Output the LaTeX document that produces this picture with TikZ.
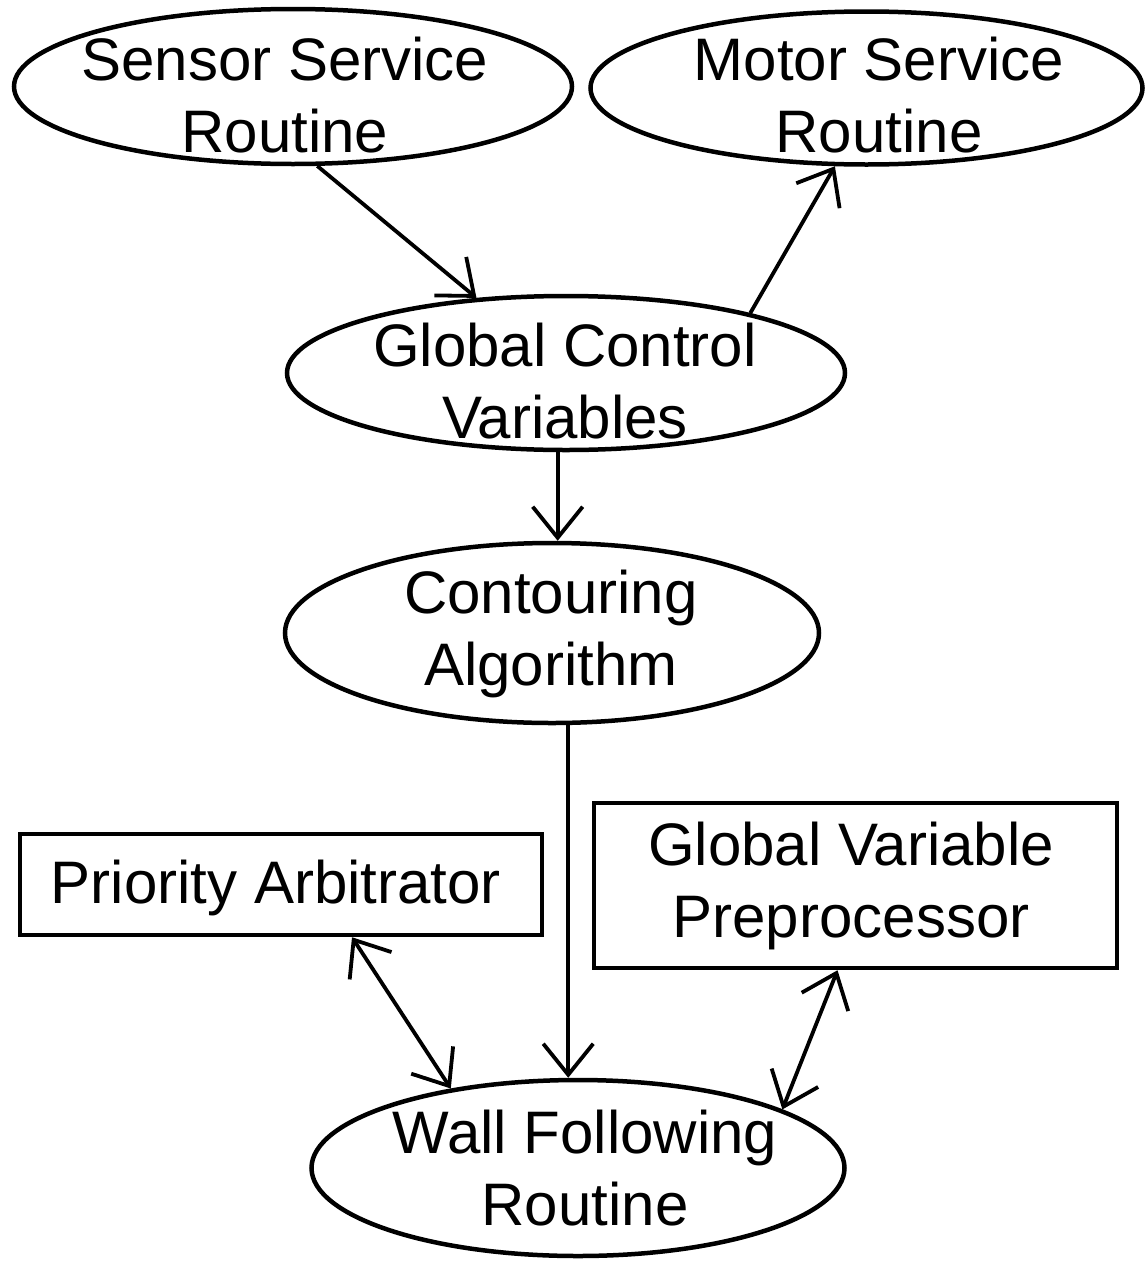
\documentclass[tikz,border=0pt]{standalone}
\usepackage{fontspec}
\setmainfont{Liberation Sans}
\usetikzlibrary{arrows.meta,shapes.geometric}
\newcommand\st{\rule{0pt}{50pt}}
\tikzset{
  shapeline/.style={draw=black, line width=4.5pt, inner sep=0pt},
  oval/.style={shapeline, ellipse},
  boxnode/.style={shapeline, rectangle},
  txt/.style={font=\fontsize{60}{72}\selectfont, align=center, anchor=north, inner sep=0pt},
  conn/.style={line width=3.8pt, draw=black},
  >={Straight Barb[length=31pt,width=50pt]}
}
\begin{document}
\begin{tikzpicture}[x=1pt,y=-1pt]
\useasboundingbox (0,0) rectangle (1145,1261);
% shapes
\node[oval, minimum width=558pt, minimum height=155pt] (sensor) at (293,86.5) {};
\node[oval, minimum width=552pt, minimum height=153pt] (motor) at (866.5,88) {};
\node[oval, minimum width=558pt, minimum height=154pt] (gcv) at (566,373) {};
\node[oval, minimum width=534pt, minimum height=180pt] (cont) at (552,633) {};
\node[oval, minimum width=533pt, minimum height=176pt] (wall) at (578,1168) {};
\node[boxnode, minimum width=522pt, minimum height=101pt] (pri) at (281,884.5) {};
\node[boxnode, minimum width=523pt, minimum height=165pt] (pre) at (855.5,885.5) {};
% texts
\node[txt] (sensorT) at (285,30) {\st Sensor Service\\Routine};
\node[txt] (motorT) at (879,30) {\st Motor Service\\Routine};
\node[txt] (gcvT) at (565,316) {\st Global Control\\Variables};
\node[txt] (contT) at (551,563) {\st Contouring\\Algorithm};
\node[txt] (priT) at (276,853) {\st Priority Arbitrator};
\node[txt] (preT) at (851,815) {\st Global Variable\\Preprocessor};
\node[txt] (wallT) at (585,1103) {\st Wall Following\\Routine};
% connectors
\draw[conn,->] (sensor.-73) -- (gcv.140);
\draw[conn,->] (gcv.18) -- (motor.-112);
\draw[conn,->] (gcv.-96) -- (gcv.-96 |- cont.north);
\draw[conn,->] (cont.-80) -- (cont.-80 |- wall.north);
\draw[conn,<->] ([xshift=71pt]pri.south) -- (wall.148);
\draw[conn,<->] ([xshift=-18pt]pre.south) -- (wall.16);
\end{tikzpicture}
\end{document}
